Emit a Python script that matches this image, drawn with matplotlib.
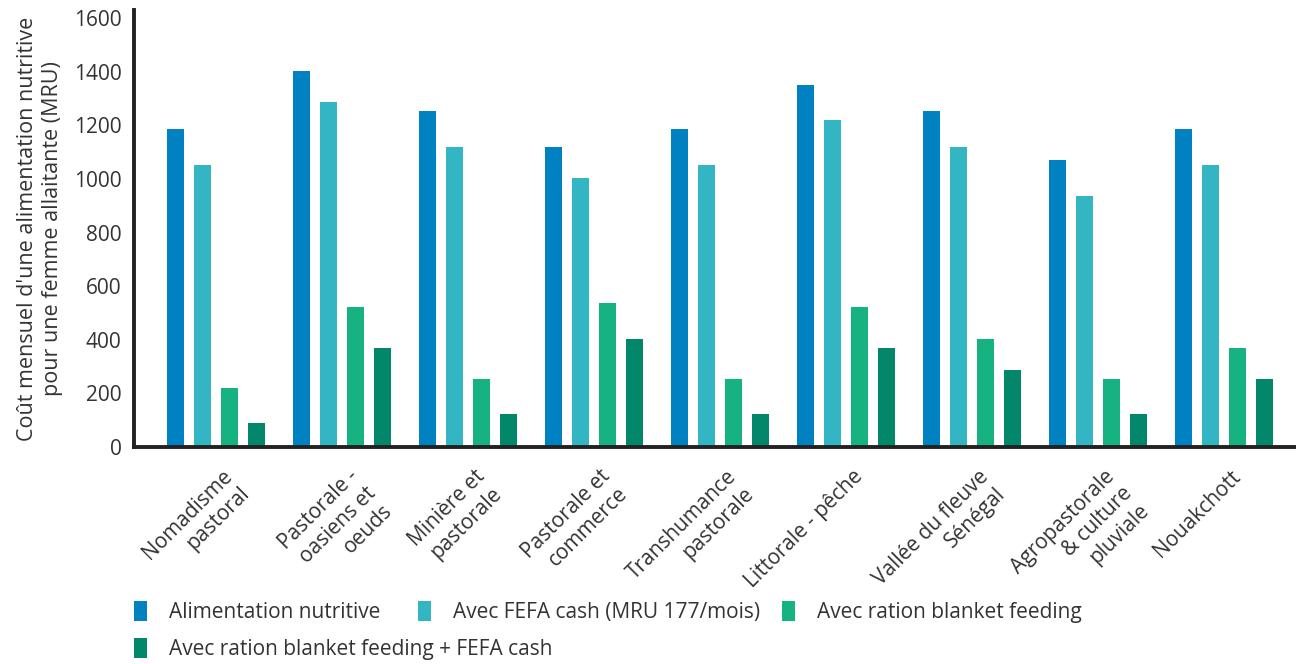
import numpy as np
import matplotlib.pyplot as plt
import matplotlib.transforms as mtransforms

plt.rcParams['font.family'] = ['Open Sans', 'DejaVu Sans']

zones = ['Nomadisme\npastoral', 'Pastorale -\noasiens et\noeuds', 'Minière et\npastorale',
         'Pastorale et\ncommerce', 'Transhumance\npastorale', 'Littorale - pêche',
         'Vallée du fleuve\nSénégal', 'Agropastorale\n& culture\npluviale', 'Nouakchott']

alimentation = [1186, 1403, 1254, 1119, 1186, 1351, 1254, 1071, 1186]
fefa_cash = [1052, 1287, 1119, 1004, 1052, 1220, 1119, 937, 1052]
blanket = [220, 522, 254, 537, 254, 522, 403, 254, 369]
blanket_fefa = [90, 369, 123, 403, 123, 369, 287, 123, 254]

series = [
    ('Alimentation nutritive', alimentation, '#0081c2'),
    ('Avec FEFA cash (MRU 177/mois)', fefa_cash, '#34b5c3'),
    ('Avec ration blanket feeding', blanket, '#16b281'),
    ('Avec ration blanket feeding + FEFA cash', blanket_fefa, '#02876a'),
]

fig = plt.figure(figsize=(12.96, 6.64), dpi=100)
ax = fig.add_axes([134 / 1296, 1 - 447 / 664, 1 - 134 / 1296, (447 - 10) / 664])

x = np.arange(len(zones))
width = 0.135
step = 0.214
handles = []
for k, (name, vals, col) in enumerate(series):
    b = ax.bar(x + (k - 1.5) * step, vals, width, color=col, label=name)
    handles.append(b)

ax.set_xlim(-0.65, 8.57)
ax.set_ylim(0, 1630)
ax.set_yticks(range(0, 1601, 200))
ax.tick_params(axis='y', length=0, labelsize=15, labelcolor='#333333', pad=9)
ax.tick_params(axis='x', length=0)

ax.set_xticks(x)
ax.set_xticklabels(zones, rotation=45, ha='right', va='top', rotation_mode='anchor',
                   multialignment='right', fontsize=15, color='#333333')
offset = mtransforms.ScaledTranslation(6 / 100, -14 / 100, fig.dpi_scale_trans)
for lbl in ax.get_xticklabels():
    lbl.set_transform(lbl.get_transform() + offset)

for side in ['top', 'right']:
    ax.spines[side].set_visible(False)
for side in ['left', 'bottom']:
    ax.spines[side].set_linewidth(2.8)
    ax.spines[side].set_color('#222222')

ax.set_ylabel("Coût mensuel d'une alimentation nutritive\npour une femme allaitante (MRU)",
              fontsize=15.5, color='#333333', labelpad=8)

# legend entries laid out in a flowing two-row block
legend_pos = [(134, 612), (418, 612), (782, 612), (134, 649)]
for (px, py), h, (name, _, _) in zip(legend_pos, handles, series):
    lg = fig.legend([h], [name], loc='center left',
                    bbox_to_anchor=(px / 1296, 1 - py / 664), frameon=False,
                    fontsize=15, handlelength=0.62, handleheight=1.1,
                    handletextpad=1.05, borderpad=0, borderaxespad=0,
                    labelcolor='#333333')

fig.savefig('out.png', dpi=100)
